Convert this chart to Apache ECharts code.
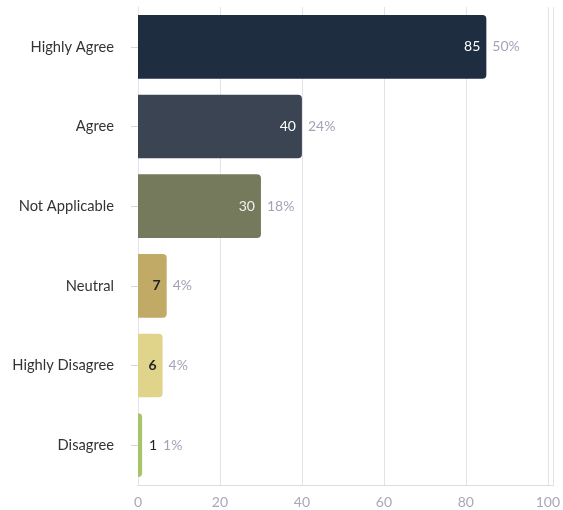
<!DOCTYPE html>
<html>
<head>
<meta charset="utf-8">
<script src="https://cdn.jsdelivr.net/npm/echarts@6/dist/echarts.min.js"></script>
<style>
  html, body { margin: 0; padding: 0; background: #ffffff; }
  #chart { width: 563px; height: 510px; }
</style>
</head>
<body>
<div id="chart"></div>
<script>
// Survey responses, top to bottom
const categories = ['Highly Agree', 'Agree', 'Not Applicable', 'Neutral', 'Highly Disagree', 'Disagree'];
const counts = [85, 40, 30, 7, 6, 1];
const shareLabels = ['50%', '24%', '18%', '4%', '4%', '1%'];
const barColors = ['#1f2d41', '#3b4453', '#767a5c', '#c0aa66', '#e0d48b', '#a8c46b'];
const valueLabelColors = ['#ffffff', '#ffffff', '#f2f2ee', '#222222', '#222222', '#222222'];
const valueLabelWeights = ['normal', 'normal', 'normal', 'bold', 'bold', 'normal'];
const xTicks = { min: 0, max: 101.4, interval: 20 };

const font = 'Lato, "Noto Sans", sans-serif';

const countData = counts.map((v, i) => {
  const tooSmall = v < 3;
  return {
    value: v,
    itemStyle: { color: barColors[i] },
    label: {
      position: tooSmall ? 'right' : 'insideRight',
      distance: tooSmall ? 7 : 6,
      color: valueLabelColors[i],
      fontWeight: valueLabelWeights[i]
    }
  };
});

const shareData = counts.map((v, i) => ({
  value: v,
  label: { distance: v < 3 ? 21 : 6 }
}));

const chart = echarts.init(document.getElementById('chart'));
chart.setOption({
  animation: false,
  grid: { left: 138, right: 8, top: 7, bottom: 25, containLabel: false },
  xAxis: {
    type: 'value',
    min: xTicks.min,
    max: xTicks.max,
    interval: xTicks.interval,
    axisLine: { show: true, lineStyle: { color: '#dcdce4', width: 1 } },
    axisTick: { show: false },
    axisLabel: {
      showMaxLabel: false,
      color: '#a8a8b8',
      fontFamily: font,
      fontSize: 14,
      margin: 10
    },
    splitLine: { show: true, lineStyle: { color: '#e3e3ea', width: 1 } }
  },
  yAxis: {
    type: 'category',
    data: categories,
    inverse: true,
    axisLine: { show: true, lineStyle: { color: '#e3e3ea' } },
    axisTick: { show: true, alignWithLabel: true, length: 7, lineStyle: { color: '#d6d6de' } },
    axisLabel: {
      color: '#333333',
      fontFamily: font,
      fontSize: 14.7,
      margin: 24
    }
  },
  series: [
    {
      type: 'bar',
      data: countData,
      barWidth: '80%',
      itemStyle: { borderRadius: [0, 4, 4, 0] },
      label: {
        show: true,
        fontFamily: font,
        fontSize: 14,
        formatter: p => String(p.value)
      },
      z: 2
    },
    {
      type: 'bar',
      data: shareData,
      barWidth: '80%',
      barGap: '-100%',
      itemStyle: { color: 'rgba(0,0,0,0)' },
      label: {
        show: true,
        position: 'right',
        color: '#a3a3b8',
        fontFamily: font,
        fontSize: 14,
        formatter: p => shareLabels[p.dataIndex]
      },
      silent: true,
      z: 3
    }
  ]
});
</script>
</body>
</html>
